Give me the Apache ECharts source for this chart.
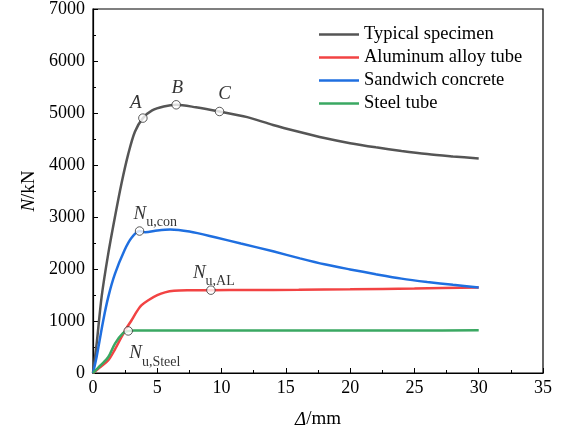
<!DOCTYPE html>
<html>
<head>
<meta charset="utf-8">
<script src="https://cdn.jsdelivr.net/npm/echarts@6/dist/echarts.min.js"></script>
<style>html,body{margin:0;padding:0;background:#fff}#c{width:565px;height:435px}</style>
</head>
<body>
<div id="c"></div>
<script>
var seriesNames = ['Typical specimen', 'Aluminum alloy tube', 'Sandwich concrete', 'Steel tube'];
var seriesColors = ['#555555', '#f24343', '#1f6fe0', '#3aa862'];

var typicalX = [0, 0.3, 0.67, 1.19, 1.71, 2.22, 2.74, 3.26, 3.88, 4.6, 5.5, 6.47, 8.0, 9.84, 12.0, 14.0, 16.0, 18.0, 20.0, 22.0, 24.0, 26.0, 28.0, 30.0];
var typicalY = [0, 600, 1464, 2300, 3006, 3650, 4210, 4640, 4902, 5050, 5125, 5158, 5110, 5029, 4920, 4770, 4640, 4520, 4420, 4340, 4270, 4210, 4165, 4125];

var alX = [0, 0.6, 1.19, 1.7, 2.22, 2.6, 3.0, 3.4, 3.78, 4.3, 5.0, 5.6, 6.3, 7.5, 9.17, 12.0, 16.0, 20.0, 25.0, 30.0];
var alY = [0, 120, 245, 450, 694, 860, 1015, 1180, 1304, 1400, 1497, 1550, 1580, 1590, 1593, 1595, 1600, 1610, 1625, 1645];

var conX = [0, 0.28, 0.8, 1.19, 1.7, 2.46, 3.0, 3.62, 4.06, 5.0, 6.0, 7.5, 9.5, 11.5, 14.0, 16.1, 18.0, 20.0, 22.0, 24.0, 26.0, 28.0, 30.0];
var conY = [0, 308, 1015, 1464, 1900, 2364, 2600, 2730, 2705, 2740, 2760, 2720, 2610, 2490, 2340, 2204, 2090, 1992, 1900, 1815, 1750, 1695, 1645];

var steelX = [0, 0.6, 1.19, 1.71, 2.35, 2.74, 3.2, 5.0, 10.0, 15.0, 20.0, 25.0, 30.0];
var steelY = [0, 150, 308, 566, 771, 809, 815, 815, 815, 815, 815, 815, 820];

var markX = [3.88, 6.47, 9.84, 3.62, 9.17, 2.74];
var markY = [4902, 5158, 5029, 2730, 1593, 809];
var markText = ['{it|A}', '{it|B}', '{it|C}', '{n|N}{s|u,con}', '{n|N}{s|u,AL}', '{n|N}{s|u,Steel}'];
var markAlign = ['center', 'center', 'center', 'left', 'left', 'left'];
var markOffset = [[-7, -15], [1, -17], [5, -17], [-6, -18], [-18, -18], [1, 22]];

var xTicks = {min: 0, max: 35, interval: 5};
var yTicks = {min: 0, max: 7000, interval: 1000};

function pairs(xs, ys) { return xs.map(function (x, i) { return [x, ys[i]]; }); }

var font = "'Liberation Serif', 'Times New Roman', 'DejaVu Serif', serif";
var richLbl = {
  it: {fontFamily: font, fontStyle: 'italic', fontSize: 19, color: '#000'},
  n: {fontFamily: font, fontStyle: 'italic', fontSize: 19, color: '#000', lineHeight: 20, verticalAlign: 'bottom'},
  s: {fontFamily: font, fontSize: 14, color: '#000', lineHeight: 20, verticalAlign: 'bottom', padding: [0, 0, -6, 0]}
};

var lineData = [pairs(typicalX, typicalY), pairs(alX, alY), pairs(conX, conY), pairs(steelX, steelY)];
var series = lineData.map(function (d, i) {
  return {
    name: seriesNames[i], type: 'line', data: d, smooth: 0.3,
    symbol: 'none', lineStyle: {width: 2.5, color: seriesColors[i]}, itemStyle: {color: seriesColors[i]},
    z: 2
  };
});
series.push({
  type: 'scatter', name: 'marks', z: 5,
  data: markX.map(function (x, i) {
    return {
      value: [x, markY[i]],
      label: {show: true, position: 'inside', formatter: markText[i], align: markAlign[i], verticalAlign: 'middle', offset: markOffset[i], rich: richLbl}
    };
  }),
  symbol: 'circle', symbolSize: 8.5,
  itemStyle: {color: '#fff', borderColor: '#333', borderWidth: 1},
  label: {show: true}
});

var chart = echarts.init(document.getElementById('c'), null, {renderer: 'canvas'});
chart.setOption({
  animation: false,
  backgroundColor: '#fff',
  grid: {left: 93, right: 22, top: 9, bottom: 62, show: true, borderColor: '#000', borderWidth: 1.2, containLabel: false},
  legend: {
    data: seriesNames.map(function (n) { return {name: n, icon: 'rect'}; }),
    orient: 'vertical', left: 314, top: 20, itemWidth: 40, itemHeight: 2.5, itemGap: 4,
    textStyle: {fontFamily: font, fontSize: 18.5, color: '#000', lineHeight: 17}
  },
  xAxis: {
    type: 'value', min: xTicks.min, max: xTicks.max, interval: xTicks.interval,
    axisLine: {show: true, lineStyle: {color: '#000', width: 1.2}},
    axisTick: {show: true, inside: true, length: 5, lineStyle: {color: '#000'}},
    minorTick: {show: true, splitNumber: 2, length: 3, lineStyle: {color: '#000'}},
    splitLine: {show: false},
    axisLabel: {fontFamily: font, fontSize: 18, color: '#000', margin: 6, formatter: function (v) { return String(v); }},
    name: '{it|Δ}{r|/mm}', nameLocation: 'middle', nameGap: 37,
    nameTextStyle: {rich: {it: {fontFamily: font, fontStyle: 'italic', fontSize: 19, color: '#000'}, r: {fontFamily: font, fontSize: 19, color: '#000'}}}
  },
  yAxis: {
    type: 'value', min: yTicks.min, max: yTicks.max, interval: yTicks.interval,
    axisLine: {show: true, lineStyle: {color: '#000', width: 1.2}},
    axisTick: {show: true, inside: true, length: 5, lineStyle: {color: '#000'}},
    minorTick: {show: true, splitNumber: 2, length: 3, lineStyle: {color: '#000'}},
    splitLine: {show: false},
    axisLabel: {fontFamily: font, fontSize: 18, color: '#000', margin: 8, formatter: function (v) { return String(v); }},
    name: '{it|N}{r|/kN}', nameLocation: 'middle', nameGap: 52, nameRotate: 90,
    nameTextStyle: {rich: {it: {fontFamily: font, fontStyle: 'italic', fontSize: 19, color: '#000'}, r: {fontFamily: font, fontSize: 19, color: '#000'}}}
  },
  series: series
});
</script>
</body>
</html>
